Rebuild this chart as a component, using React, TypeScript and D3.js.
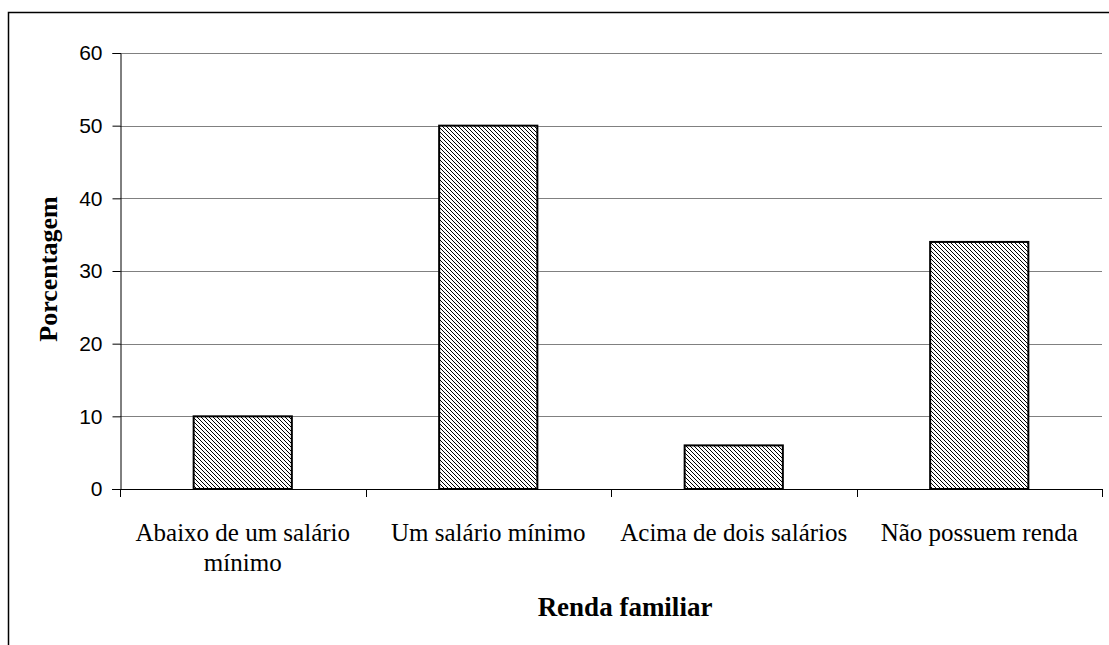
import React, { useRef, useEffect } from 'react';
import { select, scaleLinear, scaleBand, axisLeft } from 'd3';

const categories = [
  ['Abaixo de um salário', 'mínimo'],
  ['Um salário mínimo'],
  ['Acima de dois salários'],
  ['Não possuem renda'],
];
const values = [10, 50, 6, 34];
const yTicks = [0, 10, 20, 30, 40, 50, 60];

const W = 1109;
const H = 645;
const plot = { left: 120, right: 1102, top: 53, bottom: 489 };
const serif = 'Liberation Serif, Times New Roman, serif';

const App = () => {
  const svgRef = useRef<SVGSVGElement>(null);

  useEffect(() => {
    const svg = select(svgRef.current);
    svg.selectAll('*').remove();

    const x = scaleBand<number>()
      .domain(values.map((_, i) => i))
      .range([plot.left, plot.right])
      .padding(0);
    const y = scaleLinear().domain([0, 60]).range([plot.bottom, plot.top]);

    const defs = svg.append('defs');
    const pat = defs.append('pattern')
      .attr('id', 'hatch')
      .attr('patternUnits', 'userSpaceOnUse')
      .attr('width', 4)
      .attr('height', 4);
    pat.append('rect').attr('width', 4).attr('height', 4).attr('fill', '#fff');
    pat.append('path')
      .attr('d', 'M-1,-1 L5,5 M-1,3 L1,5 M3,-1 L5,1')
      .attr('stroke', '#000')
      .attr('stroke-width', 1.3)
      .attr('shape-rendering', 'crispEdges');

    // outer frame (top and left only visible)
    svg.append('path')
      .attr('d', `M8.5,${H} V12.5 H${W}`)
      .attr('fill', 'none')
      .attr('stroke', '#000')
      .attr('stroke-width', 1.5);

    // gridlines
    svg.append('g')
      .selectAll('line')
      .data(yTicks.filter(t => t > 0))
      .join('line')
      .attr('x1', plot.left)
      .attr('x2', plot.right)
      .attr('y1', d => Math.round(y(d)) + 0.5)
      .attr('y2', d => Math.round(y(d)) + 0.5)
      .attr('stroke', '#808080')
      .attr('stroke-width', 1);

    // bars
    const bw = x.bandwidth() / 2.5;
    svg.append('g')
      .selectAll('rect')
      .data(values)
      .join('rect')
      .attr('x', (_, i) => (x(i) as number) + x.bandwidth() / 2 - bw / 2)
      .attr('y', d => y(d))
      .attr('width', bw)
      .attr('height', d => plot.bottom - y(d))
      .attr('fill', 'url(#hatch)')
      .attr('stroke', '#000')
      .attr('stroke-width', 2);

    // y axis
    const yAxis = axisLeft(y).tickValues(yTicks).tickSize(8).tickPadding(10);
    const gy = svg.append('g')
      .attr('transform', `translate(${plot.left + 0.5},0)`)
      .call(yAxis);
    gy.select('.domain').attr('stroke', '#000');
    gy.selectAll('text')
      .attr('font-family', 'Liberation Sans, Arial, sans-serif')
      .attr('font-size', 21)
      .attr('fill', '#000');

    // x axis line and ticks
    svg.append('line')
      .attr('x1', plot.left - 8)
      .attr('x2', plot.right)
      .attr('y1', plot.bottom + 0.5)
      .attr('y2', plot.bottom + 0.5)
      .attr('stroke', '#000');
    const bounds = values.map((_, i) => x(i) as number).concat([plot.right]);
    svg.append('g')
      .selectAll('line')
      .data(bounds)
      .join('line')
      .attr('x1', d => Math.round(d) + 0.5)
      .attr('x2', d => Math.round(d) + 0.5)
      .attr('y1', plot.bottom)
      .attr('y2', plot.bottom + 8)
      .attr('stroke', '#000');

    // category labels
    const lab = svg.append('g')
      .selectAll('text')
      .data(categories)
      .join('text')
      .attr('transform', (_, i) =>
        `translate(${(x(i) as number) + x.bandwidth() / 2},541)`)
      .attr('text-anchor', 'middle')
      .attr('font-family', serif)
      .attr('font-size', 25)
      .attr('fill', '#000');
    lab.selectAll('tspan')
      .data(d => d)
      .join('tspan')
      .attr('x', 0)
      .attr('dy', (_, j) => (j === 0 ? 0 : 30))
      .text(d => d);

    // axis titles
    svg.append('text')
      .attr('x', 625)
      .attr('y', 616)
      .attr('text-anchor', 'middle')
      .attr('font-family', serif)
      .attr('font-weight', 'bold')
      .attr('font-size', 27)
      .text('Renda familiar');
    svg.append('text')
      .attr('transform', `translate(57,269) rotate(-90)`)
      .attr('text-anchor', 'middle')
      .attr('font-family', serif)
      .attr('font-weight', 'bold')
      .attr('font-size', 26)
      .text('Porcentagem');
  }, []);

  return (
    <svg
      ref={svgRef}
      width={W}
      height={H}
      style={{ position: 'absolute', left: 0, top: 0, background: '#fff' }}
    />
  );
};

export default App;
